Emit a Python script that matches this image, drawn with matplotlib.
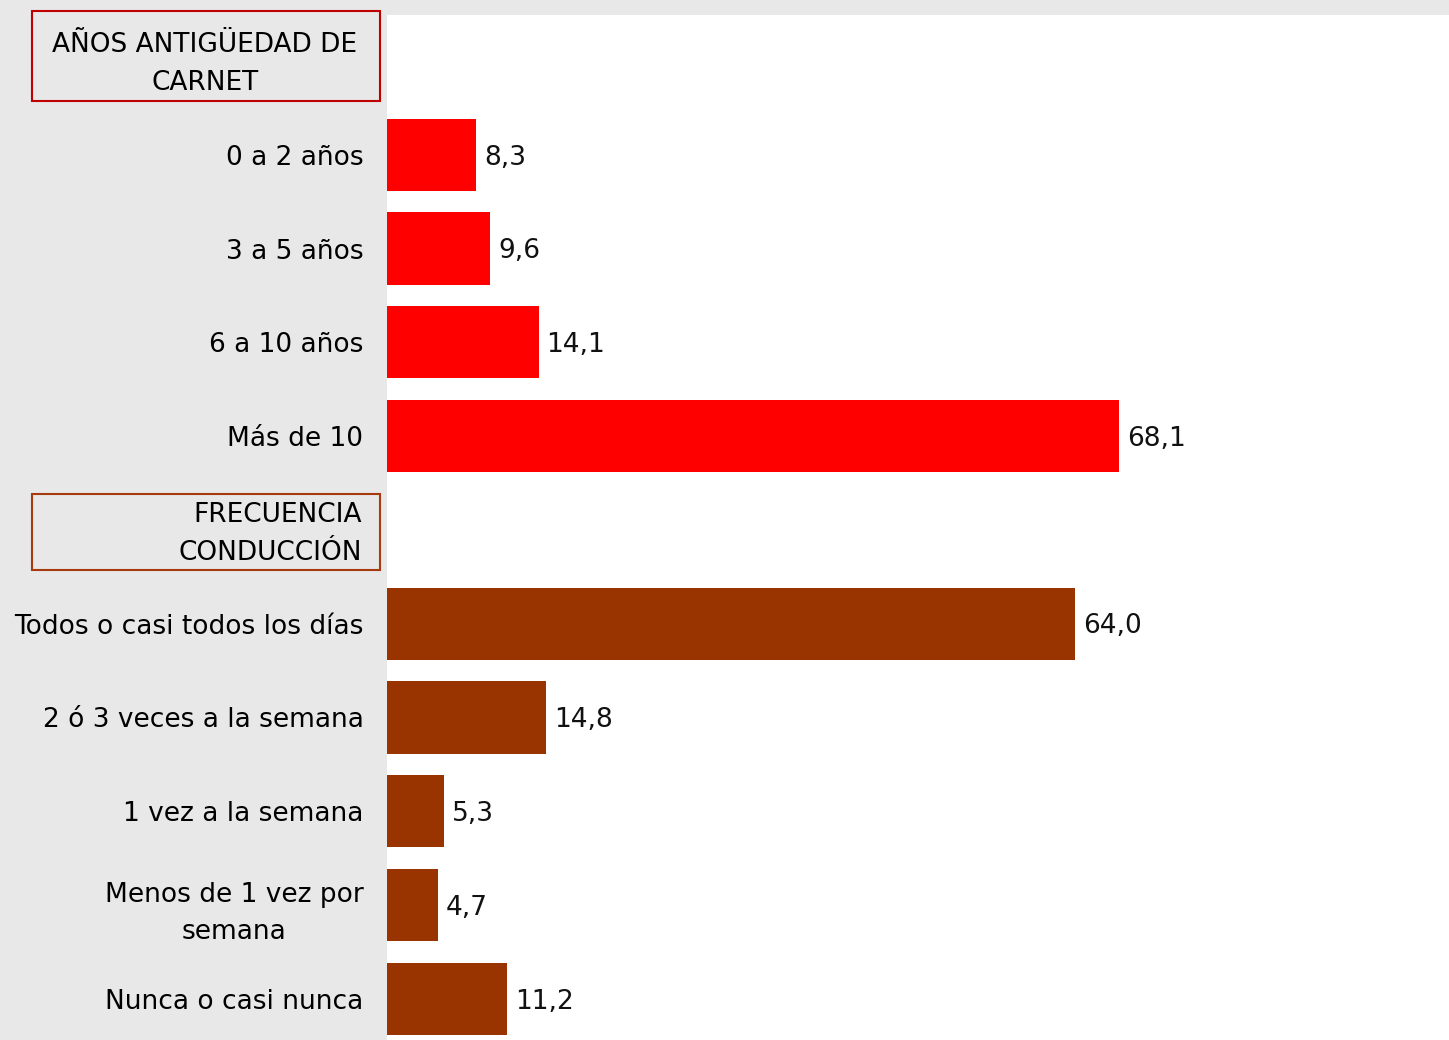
#!/usr/bin/env python

from matplotlib import pyplot as plt
from matplotlib.patches import Rectangle

categories = [
    "",
    "0 a 2 años",
    "3 a 5 años",
    "6 a 10 años",
    "Más de 10",
    "",
    "Todos o casi todos los días",
    "2 ó 3 veces a la semana",
    "1 vez a la semana",
    "Menos de 1 vez por\nsemana",
    "Nunca o casi nunca",
]
values = [None, 8.3, 9.6, 14.1, 68.1, None, 64.0, 14.8, 5.3, 4.7, 11.2]
groups = [None, 0, 0, 0, 0, None, 1, 1, 1, 1, 1]
group_titles = ["AÑOS ANTIGÜEDAD DE\nCARNET", "FRECUENCIA\nCONDUCCIÓN"]

colors = ["#ff0000", "#993300"]
edge_colors = ["#c00000", "#a63b0d"]


def main():
    W, H = 1449, 1040
    fig = plt.figure(figsize=(W / 100, H / 100), dpi=100)
    fig.patch.set_facecolor("#e8e8e8")
    ax = fig.add_axes([387 / W, 0, 1 - 387 / W, 1 - 15 / H])
    ax.set_facecolor("white")

    fs = 19
    for i, (v, g) in enumerate(zip(values, groups)):
        if v is None:
            continue
        ax.barh(i, v, height=0.77, color=colors[g])
        ax.text(v + 0.75, i + 0.03, f"{v:.1f}".replace(".", ","), va="center",
                ha="left", fontsize=fs, color="#111111")

    ax.set_xlim(0, 98.8)
    ax.set_ylim(10.44, -0.49)
    ax.set_yticks(range(len(categories)))
    ax.set_yticklabels(categories, fontsize=fs, multialignment="center",
                       linespacing=1.55)
    ax.tick_params(axis="y", length=0, pad=17)
    ax.set_xticks([])
    for s in ax.spines.values():
        s.set_visible(False)

    # header boxes
    boxes = [(32, 11, 348, 90), (32, 494, 348, 76)]
    for k, (x, y, w, h) in enumerate(boxes):
        fig.add_artist(Rectangle((x / W, 1 - (y + h) / H), w / W, h / H,
                                 transform=fig.transFigure, fill=False,
                                 edgecolor=edge_colors[k], linewidth=1.5))
    fig.text(205 / W, 1 - 64 / H, group_titles[0], ha="center", va="center",
             fontsize=fs, multialignment="center", linespacing=1.55)
    fig.text(362 / W, 1 - 534 / H, group_titles[1], ha="right", va="center",
             fontsize=fs, multialignment="right", linespacing=1.55)

    fig.savefig("out.png", dpi=100, facecolor=fig.get_facecolor())


if __name__ == "__main__":
    main()
